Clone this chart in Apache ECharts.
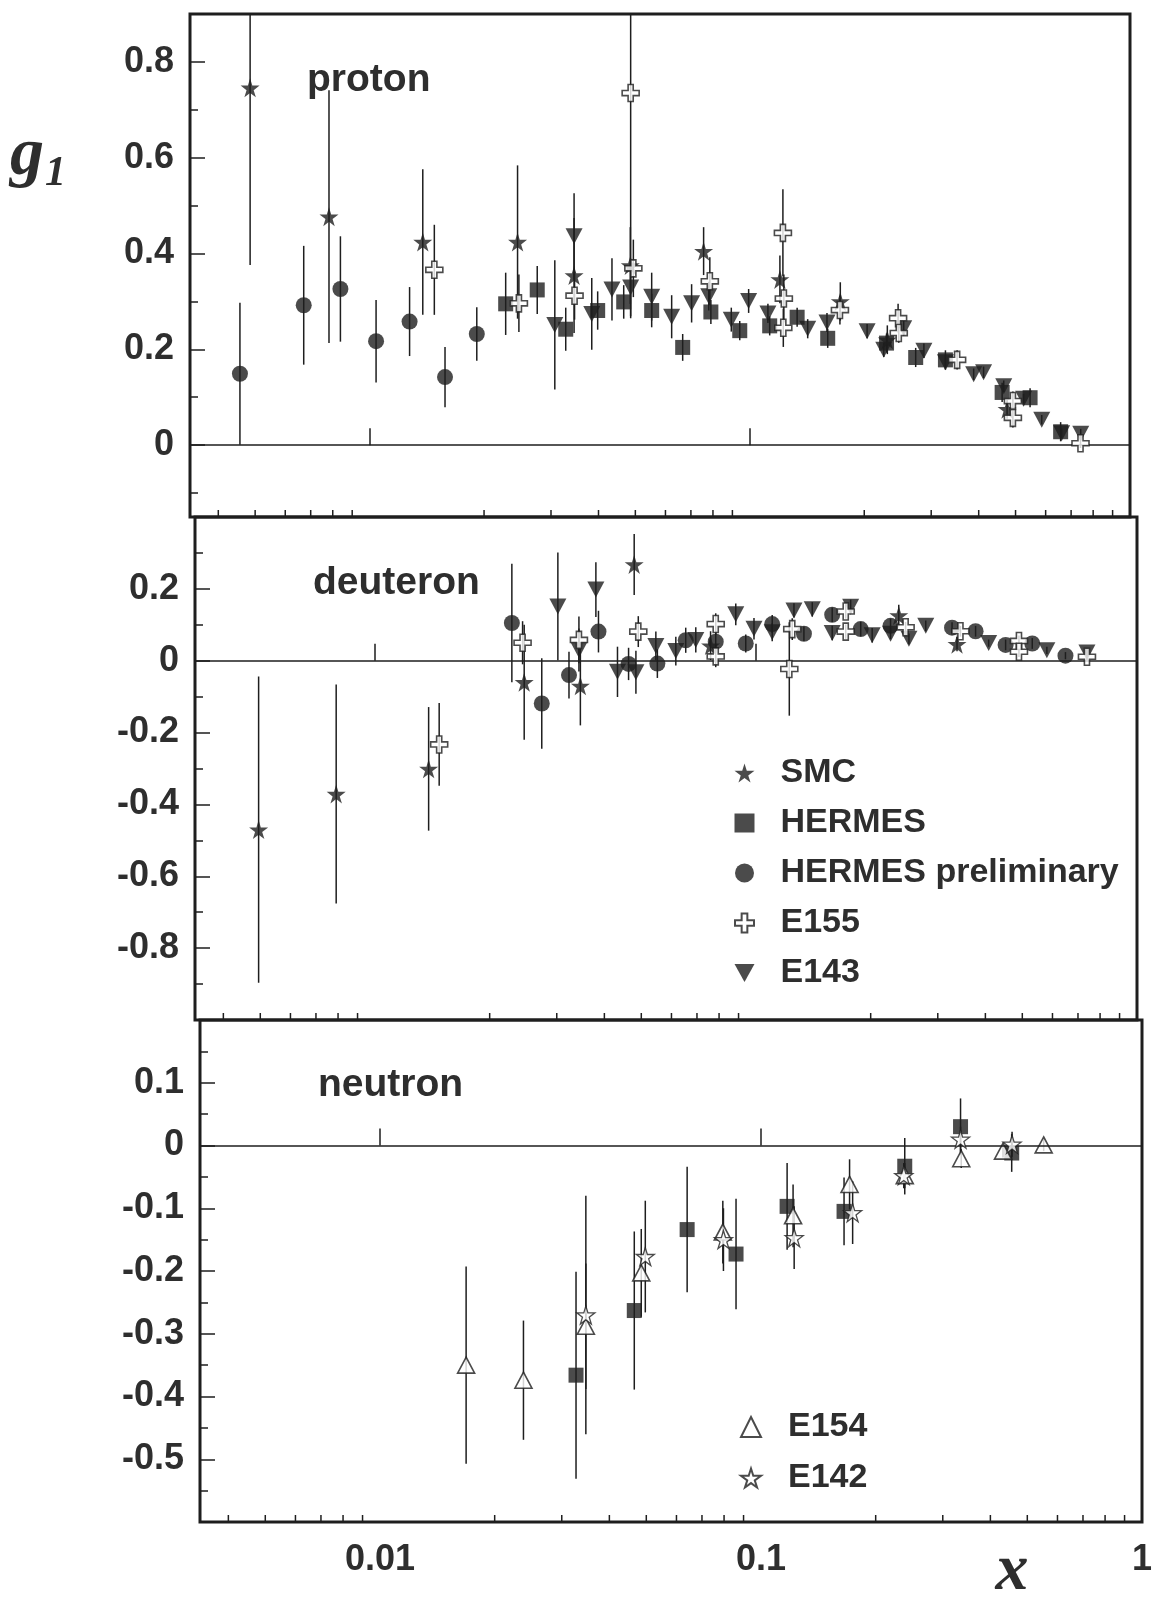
<!DOCTYPE html>
<html>
<head>
<meta charset="utf-8">
<script src="https://cdn.jsdelivr.net/npm/echarts@6/dist/echarts.min.js"></script>
<style>
html,body{margin:0;padding:0;background:#fff;}
#chart{width:1160px;height:1599px;}
</style>
</head>
<body>
<div id="chart"></div>
<script>
// ---------------- data: [x, g1, error] ----------------
const X_MIN = 0.00337, X_MAX = 1;
const X_MINOR_TICKS = [0.004,0.005,0.006,0.007,0.008,0.009,0.02,0.03,0.04,0.05,0.06,0.07,0.08,0.09,0.2,0.3,0.4,0.5,0.6,0.7,0.8,0.9];
const PANEL_NAMES = ['proton', 'deuteron', 'neutron'];
const Y_RANGES = [[-0.15, 0.9], [-1, 0.4], [-0.6, 0.2]];

const P_SMC = [[0.00485,0.746,0.37],[0.00782,0.477,0.264],[0.0138,0.424,0.152],[0.0245,0.424,0.16],[0.0345,0.354,0.12],[0.0485,0.375,0.08],[0.0756,0.405,0.05],[0.120,0.346,0.05],[0.173,0.30,0.04],[0.23,0.22,0.03],[0.475,0.075,0.02]];
const P_HERMES = [[0.0228,0.295,0.065],[0.0276,0.324,0.05],[0.0328,0.242,0.045],[0.0398,0.281,0.04],[0.0466,0.299,0.035],[0.0552,0.281,0.035],[0.0666,0.204,0.028],[0.0790,0.278,0.025],[0.0941,0.239,0.02],[0.1128,0.249,0.02],[0.1332,0.267,0.02],[0.1603,0.223,0.02],[0.2289,0.213,0.02],[0.2731,0.183,0.02],[0.327,0.178,0.02],[0.461,0.110,0.02],[0.546,0.099,0.02],[0.657,0.028,0.02]];
const P_HERMES_PRE = [[0.00456,0.149,0.148],[0.00671,0.292,0.124],[0.00838,0.326,0.11],[0.0104,0.217,0.086],[0.01274,0.258,0.072],[0.01579,0.142,0.063],[0.01914,0.232,0.056]];
const P_E155 = [[0.0148,0.366,0.094],[0.0247,0.296,0.06],[0.0346,0.312,0.05],[0.0486,0.735,0.47],[0.0494,0.369,0.06],[0.0785,0.342,0.05],[0.1222,0.443,0.091],[0.1229,0.306,0.05],[0.1225,0.245,0.04],[0.1726,0.282,0.03],[0.2455,0.265,0.03],[0.2465,0.234,0.02],[0.351,0.178,0.02],[0.492,0.092,0.02],[0.492,0.057,0.02],[0.741,0.004,0.01]];
const P_E143 = [[0.0307,0.251,0.135],[0.0345,0.436,0.09],[0.0384,0.274,0.075],[0.0434,0.325,0.065],[0.0486,0.329,0.06],[0.0552,0.310,0.05],[0.0623,0.268,0.045],[0.0703,0.296,0.04],[0.0780,0.311,0.03],[0.0894,0.262,0.025],[0.0993,0.301,0.025],[0.1116,0.275,0.02],[0.142,0.243,0.02],[0.1596,0.256,0.02],[0.2035,0.238,0.015],[0.2251,0.199,0.015],[0.254,0.244,0.015],[0.287,0.197,0.015],[0.327,0.173,0.015],[0.388,0.148,0.012],[0.412,0.152,0.012],[0.4655,0.123,0.012],[0.525,0.097,0.01],[0.586,0.053,0.01],[0.661,0.025,0.01],[0.742,0.024,0.01]];

const D_SMC = [[0.00495,-0.470,0.426],[0.00791,-0.371,0.305],[0.01383,-0.301,0.172],[0.02464,-0.060,0.16],[0.0346,-0.070,0.11],[0.0479,0.268,0.085],[0.076,0.042,0.04],[0.237,0.126,0.03],[0.337,0.046,0.02]];
const D_HERMES_PRE = [[0.02287,0.105,0.165],[0.0274,-0.119,0.126],[0.0323,-0.040,0.065],[0.0386,0.081,0.058],[0.0463,-0.009,0.045],[0.0551,-0.008,0.04],[0.0654,0.057,0.035],[0.0784,0.053,0.03],[0.0940,0.048,0.025],[0.1103,0.102,0.025],[0.1336,0.075,0.02],[0.1585,0.128,0.02],[0.1883,0.088,0.02],[0.2255,0.097,0.02],[0.327,0.092,0.015],[0.377,0.082,0.015],[0.452,0.044,0.015],[0.531,0.048,0.015],[0.649,0.014,0.01]];
const D_E155 = [[0.01474,-0.233,0.115],[0.0244,0.050,0.06],[0.0343,0.058,0.065],[0.0491,0.081,0.043],[0.0784,0.102,0.03],[0.0784,0.012,0.03],[0.1245,0.088,0.03],[0.1223,-0.023,0.13],[0.172,0.137,0.02],[0.172,0.081,0.02],[0.247,0.093,0.015],[0.344,0.082,0.015],[0.49,0.055,0.015],[0.49,0.025,0.015],[0.739,0.011,0.01]];
const D_E143 = [[0.0302,0.151,0.15],[0.0343,0.030,0.06],[0.0380,0.198,0.076],[0.0433,-0.031,0.07],[0.0484,-0.032,0.06],[0.0546,0.041,0.04],[0.0616,0.027,0.04],[0.0695,0.058,0.035],[0.0885,0.129,0.03],[0.0988,0.089,0.03],[0.1103,0.079,0.025],[0.1258,0.140,0.02],[0.1405,0.143,0.02],[0.1585,0.077,0.02],[0.1772,0.150,0.02],[0.2018,0.071,0.02],[0.2255,0.075,0.015],[0.252,0.061,0.015],[0.279,0.097,0.015],[0.408,0.049,0.01],[0.580,0.029,0.01],[0.739,0.023,0.01]];

const N_HERMES = [[0.0327,-0.366,0.165],[0.0465,-0.263,0.126],[0.0640,-0.134,0.1],[0.0860,-0.173,0.088],[0.1171,-0.097,0.069],[0.1652,-0.105,0.054],[0.2384,-0.033,0.045],[0.334,0.030,0.045],[0.455,-0.012,0.03]];
const N_E154 = [[0.01683,-0.350,0.157],[0.0238,-0.374,0.095],[0.0347,-0.288,0.1],[0.0485,-0.203,0.07],[0.0794,-0.138,0.05],[0.1214,-0.112,0.05],[0.1708,-0.062,0.04],[0.2384,-0.048,0.02],[0.3354,-0.021,0.015],[0.4317,-0.009,0.01],[0.552,0.001,0.01]];
const N_E142 = [[0.0347,-0.270,0.19],[0.0497,-0.177,0.089],[0.0797,-0.150,0.05],[0.1222,-0.147,0.05],[0.174,-0.107,0.05],[0.237,-0.048,0.02],[0.334,0.010,0.02],[0.456,0.002,0.02]];

// ---------------- styling ----------------
const INK = '#1e1e1e', TXT = '#2e2e2e';
const FONT = '"Liberation Sans", Arial, sans-serif';
const STAR = 'path://M50,0L61,35L98,35L68,57L79,91L50,70L21,91L32,57L2,35L39,35Z';
const CROSS = 'path://M7,0H13V7H20V13H13V20H7V13H0V7H7Z';
const TRI_DOWN = 'path://M0,0L20,0L10,18Z';

const STYLES = {
  'SMC': {symbol: STAR, symbolSize: 19, itemStyle: {color: INK}},
  'HERMES': {symbol: 'rect', symbolSize: 15, itemStyle: {color: INK}},
  'HERMES preliminary': {symbol: 'circle', symbolSize: 16, itemStyle: {color: INK}},
  'E155': {symbol: CROSS, symbolSize: 17, itemStyle: {color: '#fff', borderColor: INK, borderWidth: 1.6}},
  'E143': {symbol: TRI_DOWN, symbolSize: [17, 16], itemStyle: {color: INK}},
  'E154': {symbol: 'triangle', symbolSize: [17, 16], itemStyle: {color: '#fff', borderColor: INK, borderWidth: 1.6}},
  'E142': {symbol: STAR, symbolSize: 18, itemStyle: {color: '#fff', borderColor: INK, borderWidth: 1.3}}
};

const PANELS = [
  [['HERMES preliminary', P_HERMES_PRE], ['HERMES', P_HERMES], ['E143', P_E143], ['SMC', P_SMC], ['E155', P_E155]],
  [['HERMES preliminary', D_HERMES_PRE], ['E143', D_E143], ['SMC', D_SMC], ['E155', D_E155]],
  [['HERMES', N_HERMES], ['E154', N_E154], ['E142', N_E142]]
];

// layout (pixels)
const GRIDS = [
  {left: 190, top: 14, width: 940, height: 503},
  {left: 195, top: 517, width: 942, height: 503},
  {left: 200, top: 1020, width: 942, height: 502}
];
const LABEL_POS = [[307, 80.5], [313, 583.5], [318, 1085.5]];

function yFmt(v) {
  if (Math.abs(v) < 1e-9) return '0';
  return v.toFixed(1);
}

const grid = [], xAxis = [], yAxis = [], series = [];
GRIDS.forEach((g, i) => {
  grid.push(Object.assign({show: true, borderColor: INK, borderWidth: 3, backgroundColor: 'transparent'}, g));
  xAxis.push({
    type: 'log', logBase: 10, gridIndex: i, min: X_MIN, max: X_MAX,
    axisLine: {show: false},
    axisTick: {show: true, inside: true, length: 17, lineStyle: {color: INK, width: 1.5}},
    splitLine: {show: false},
    axisLabel: {
      show: i === 2, margin: 20, fontSize: 36, fontWeight: 'bold', fontFamily: FONT, color: TXT,
      formatter: v => {
        const e = Math.round(Math.log10(v));
        if (Math.abs(Math.log10(v) - e) > 1e-6) return '';
        return e === -2 ? '0.01' : e === -1 ? '0.1' : e === 0 ? '1' : '';
      }
    }
  });
  const [ymin, ymax] = Y_RANGES[i];
  const ya = {
    type: 'value', gridIndex: i, min: ymin, max: ymax,
    axisLine: {show: false},
    axisTick: {show: true, inside: true, length: 15, lineStyle: {color: INK, width: 1.5}},
    minorTick: {show: true, splitNumber: 2, length: 8, lineStyle: {color: INK, width: 1.5}},
    splitLine: {show: false},
    axisLabel: {
      margin: 16, fontSize: 36, fontWeight: 'bold', fontFamily: FONT, color: TXT,
      formatter: v => {
        if (Math.abs(v - ymin) < 1e-9 || Math.abs(v - ymax) < 1e-9) return '';
        const step = i === 2 ? 0.1 : 0.2;
        const k = v / step;
        if (Math.abs(k - Math.round(k)) > 1e-6) return '';
        return yFmt(v);
      }
    }
  };
  if (i === 1) ya.interval = 0.2;
  if (i === 2) ya.interval = 0.1;
  yAxis.push(ya);

  // minor log ticks on bottom edge
  series.push({
    type: 'custom', name: 'minor-ticks-' + i, xAxisIndex: i, yAxisIndex: i, silent: true, z: 1,
    data: X_MINOR_TICKS.map(v => [v, 0]),
    encode: {x: 0, y: 1},
    renderItem: (params, api) => {
      const cs = params.coordSys;
      const px = api.coord([api.value(0), 0])[0];
      const yb = cs.y + cs.height;
      return {type: 'line', shape: {x1: px, y1: yb, x2: px, y2: yb - 7}, style: {stroke: INK, lineWidth: 1.5}};
    }
  });

  PANELS[i].forEach(([name, arr], j) => {
    // error bars
    series.push({
      type: 'custom', name: name + ' (err ' + i + ')', xAxisIndex: i, yAxisIndex: i, silent: true, z: 2,
      data: arr, encode: {x: 0, y: 1},
      renderItem: (params, api) => {
        const x = api.value(0), v = api.value(1), e = api.value(2);
        const lo = Math.max(v - e, ymin), hi = Math.min(v + e, ymax);
        const p1 = api.coord([x, lo]), p2 = api.coord([x, hi]);
        return {type: 'line', shape: {x1: p1[0], y1: p1[1], x2: p2[0], y2: p2[1]}, style: {stroke: INK, lineWidth: 1.5}};
      }
    });
    const s = Object.assign({
      type: 'scatter', name: name, xAxisIndex: i, yAxisIndex: i, z: 3 + j,
      data: arr, encode: {x: 0, y: 1}, silent: true
    }, STYLES[name]);
    if (j === 0) {
      s.markLine = {
        silent: true, symbol: 'none', label: {show: false},
        lineStyle: {color: INK, width: 1.5, type: 'solid'},
        data: [{yAxis: 0}], animation: false
      };
    }
    series.push(s);
  });
});

const legendText = {fontSize: 34, fontWeight: 'bold', fontFamily: FONT, color: TXT};
const option = {
  backgroundColor: '#fff',
  animation: false,
  grid, xAxis, yAxis, series,
  legend: [
    {
      data: ['SMC', 'HERMES', 'HERMES preliminary', 'E155', 'E143'],
      orient: 'vertical', left: 729, top: 751, itemWidth: 20, itemHeight: 19, itemGap: 16,
      selectedMode: false,
      textStyle: Object.assign({padding: [0, 0, 0, 21]}, legendText)
    },
    {
      data: ['E154', 'E142'],
      orient: 'vertical', left: 735, top: 1405, itemWidth: 20, itemHeight: 20, itemGap: 17,
      selectedMode: false,
      textStyle: Object.assign({padding: [0, 0, 0, 22]}, legendText)
    }
  ],
  graphic: [
    ...PANEL_NAMES.map((t, i) => ({
      type: 'text', x: LABEL_POS[i][0], y: LABEL_POS[i][1], silent: true,
      style: {text: t, font: 'bold 39px ' + FONT, fill: TXT, align: 'left', verticalAlign: 'middle'}
    })),
    {type: 'text', x: 10, y: 156, silent: true,
     style: {text: 'g', font: 'italic bold 68px "Liberation Serif", serif', fill: TXT, align: 'left', verticalAlign: 'middle'}},
    {type: 'text', x: 45, y: 174, silent: true,
     style: {text: '1', font: 'italic bold 42px "Liberation Serif", serif', fill: TXT, align: 'left', verticalAlign: 'middle'}},
    {type: 'text', x: 1012, y: 1572, silent: true,
     style: {text: 'x', font: 'italic bold 66px "Liberation Serif", serif', fill: TXT, align: 'center', verticalAlign: 'middle'}}
  ]
};

const chart = echarts.init(document.getElementById('chart'), null, {renderer: 'canvas'});
chart.setOption(option);
</script>
</body>
</html>
